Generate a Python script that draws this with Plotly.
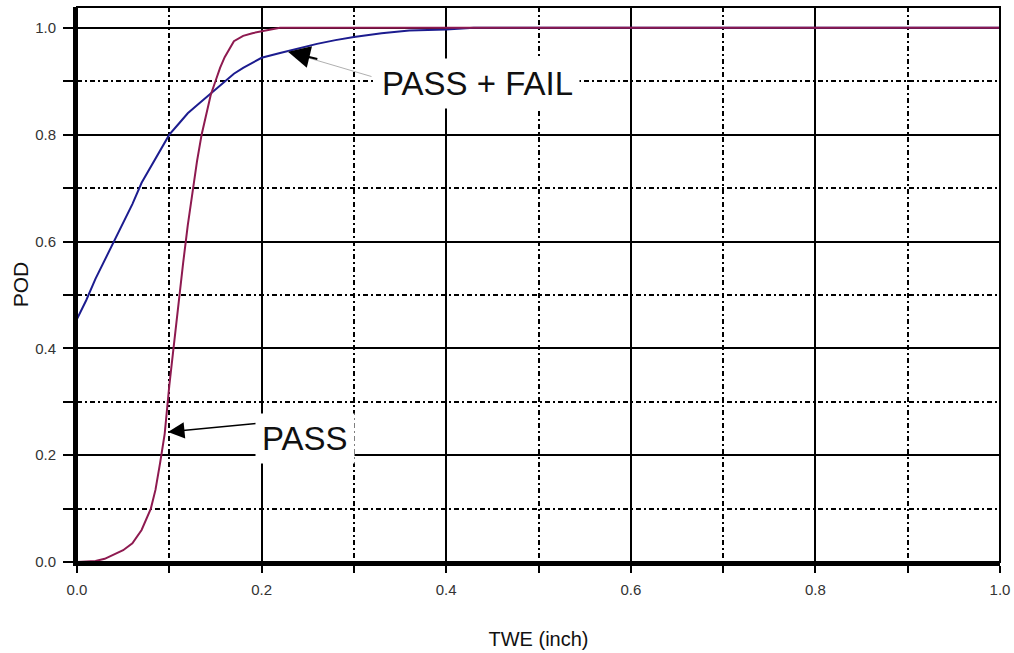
import plotly.graph_objects as go

# PASS + FAIL curve (blue)
pf_x = [0.0, 0.01, 0.02, 0.03, 0.04, 0.05, 0.06, 0.07, 0.08, 0.09, 0.10, 0.11, 0.12,
        0.13, 0.14, 0.15, 0.16, 0.17, 0.18, 0.19, 0.20, 0.22, 0.24, 0.26, 0.28, 0.30,
        0.33, 0.36, 0.40, 0.43, 1.0]
pf_y = [0.455, 0.49, 0.53, 0.565, 0.60, 0.635, 0.67, 0.71, 0.74, 0.77, 0.80, 0.82, 0.84,
        0.855, 0.87, 0.885, 0.90, 0.914, 0.925, 0.935, 0.944, 0.953, 0.962, 0.970, 0.977,
        0.983, 0.99, 0.995, 0.997, 1.0, 1.0]

# PASS curve (red)
p_x = [0.0, 0.02, 0.03, 0.04, 0.05, 0.06, 0.07, 0.08, 0.085, 0.09, 0.095, 0.10, 0.105,
       0.11, 0.115, 0.12, 0.125, 0.13, 0.135, 0.14, 0.145, 0.15, 0.155, 0.16, 0.17, 0.18,
       0.19, 0.21, 0.22, 1.0]
p_y = [0.0, 0.002, 0.006, 0.014, 0.022, 0.035, 0.06, 0.10, 0.135, 0.185, 0.24, 0.33, 0.41,
       0.49, 0.56, 0.63, 0.69, 0.75, 0.80, 0.84, 0.875, 0.90, 0.925, 0.945, 0.975, 0.985,
       0.99, 0.997, 1.0, 1.0]

x_ticks = [0.0, 0.2, 0.4, 0.6, 0.8, 1.0]
y_ticks = [0.0, 0.2, 0.4, 0.6, 0.8, 1.0]

FONT = "Liberation Sans, Arial, sans-serif"

fig = go.Figure()
fig.add_trace(go.Scatter(x=pf_x, y=pf_y, mode="lines",
                         line=dict(color="#1c1c8f", width=2), name="PASS + FAIL"))
fig.add_trace(go.Scatter(x=p_x, y=p_y, mode="lines",
                         line=dict(color="#8e1a50", width=2), name="PASS"))

dash = "5px,3px,2px,3px"
fig.update_xaxes(range=[0, 1.0], tickvals=x_ticks, tickformat=".1f",
                 showgrid=True, gridcolor="black", gridwidth=2,
                 showline=True, linecolor="black", linewidth=4,
                 ticks="outside", ticklen=7, tickwidth=2, tickcolor="black",
                 ticklabelstandoff=4, automargin=False,
                 minor=dict(dtick=0.1, tick0=0, showgrid=True, gridcolor="black",
                            griddash=dash, gridwidth=1.5, ticks="outside", ticklen=7,
                            tickwidth=2, tickcolor="black"),
                 tickfont=dict(family=FONT, size=15, color="#333333"),
                 title=dict(text="TWE (inch)", font=dict(family=FONT, size=20, color="#111111"),
                            standoff=36),
                 zeroline=False)
fig.update_yaxes(range=[0, 1.039], tickvals=y_ticks, tickformat=".1f",
                 showgrid=True, gridcolor="black", gridwidth=2,
                 showline=True, linecolor="black", linewidth=4,
                 ticks="outside", ticklen=10, tickwidth=2, tickcolor="black",
                 ticklabelstandoff=4, automargin=False,
                 minor=dict(dtick=0.1, tick0=0, showgrid=True, gridcolor="black",
                            griddash=dash, gridwidth=1.5, ticks="outside", ticklen=10,
                            tickwidth=2, tickcolor="black"),
                 tickfont=dict(family=FONT, size=15, color="#333333"),
                 title=dict(text="POD", font=dict(family=FONT, size=21, color="#111111"),
                            standoff=2),
                 zeroline=False)

# frame top/right
fig.add_shape(type="rect", xref="paper", yref="paper", x0=0, x1=1, y0=0, y1=1,
              line=dict(color="black", width=2))

# PASS + FAIL label and arrow
fig.add_annotation(x=0.2286, y=0.955, ax=0.3207, ay=0.908, xref="x", yref="y",
                   axref="x", ayref="y", showarrow=True, arrowhead=0,
                   arrowcolor="#b0b0b0", arrowwidth=1, text="")
fig.add_annotation(x=0.2286, y=0.955, ax=0.262, ay=0.941, xref="x", yref="y",
                   axref="x", ayref="y", showarrow=True, arrowhead=2, arrowsize=2.2,
                   arrowwidth=2, arrowcolor="black", text="", standoff=0)
fig.add_annotation(x=0.4334, y=0.895, xref="x", yref="y", showarrow=False,
                   text="PASS + FAIL", bgcolor="white", borderpad=6,
                   font=dict(family=FONT, size=33, color="#111111"))

# PASS label and arrow
fig.add_annotation(x=0.0986, y=0.2434, ax=0.198, ay=0.260, xref="x", yref="y",
                   axref="x", ayref="y", showarrow=True, arrowhead=2, arrowsize=2.2,
                   arrowwidth=1.5, arrowcolor="black", text="", standoff=0)
fig.add_annotation(x=0.247, y=0.232, xref="x", yref="y", showarrow=False,
                   text="PASS", bgcolor="white", borderpad=6,
                   font=dict(family=FONT, size=33, color="#111111"))

fig.update_layout(width=1014, height=653, margin=dict(l=77, r=14, t=7, b=91),
                  paper_bgcolor="white", plot_bgcolor="white", showlegend=False,
                  font=dict(family=FONT))

fig.write_html("out.html")
